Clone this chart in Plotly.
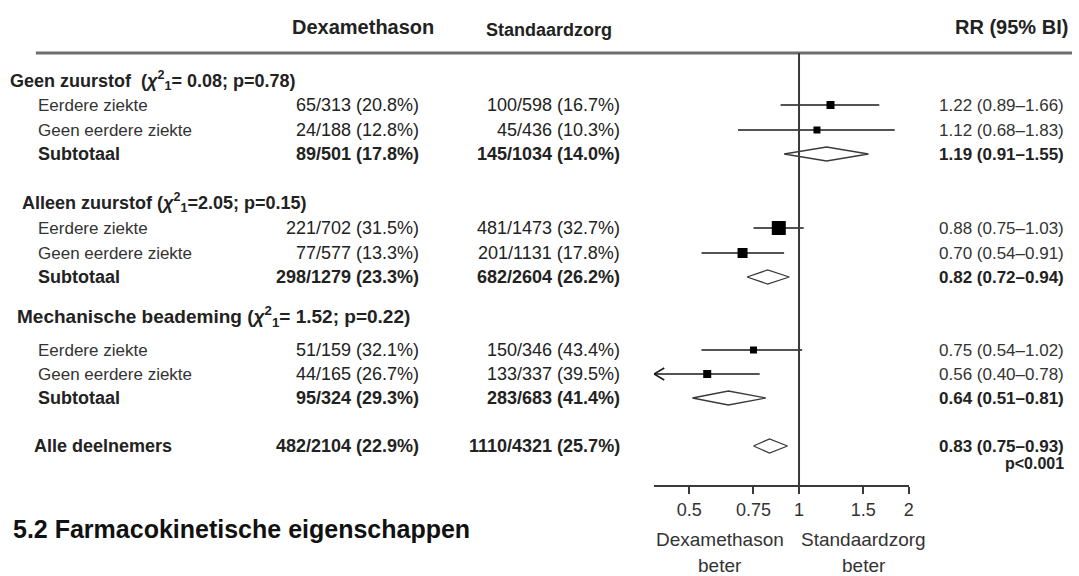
import math
import plotly.graph_objects as go

W, H = 1079, 576

# ---------------- data ----------------
group_names = ["Geen zuurstof\u00a0\u00a0", "Alleen zuurstof ", "Mechanische beademing "]
group_chi = ["0.08", "2.05", "1.52"]
group_p = ["0.78", "0.15", "0.22"]
group_chi_sep = ["= ", "=", "= "]

row_labels = ["Eerdere ziekte", "Geen eerdere ziekte", "Subtotaal",
              "Eerdere ziekte", "Geen eerdere ziekte", "Subtotaal",
              "Eerdere ziekte", "Geen eerdere ziekte", "Subtotaal",
              "Alle deelnemers"]
row_kind = ["study", "study", "sub", "study", "study", "sub",
            "study", "study", "sub", "total"]

dexa_events = [65, 24, 89, 221, 77, 298, 51, 44, 95, 482]
dexa_total = [313, 188, 501, 702, 577, 1279, 159, 165, 324, 2104]
dexa_pct = [20.8, 12.8, 17.8, 31.5, 13.3, 23.3, 32.1, 26.7, 29.3, 22.9]

std_events = [100, 45, 145, 481, 201, 682, 150, 133, 283, 1110]
std_total = [598, 436, 1034, 1473, 1131, 2604, 346, 337, 683, 4321]
std_pct = [16.7, 10.3, 14.0, 32.7, 17.8, 26.2, 43.4, 39.5, 41.4, 25.7]

rr = [1.22, 1.12, 1.19, 0.88, 0.70, 0.82, 0.75, 0.56, 0.64, 0.83]
rr_lo = [0.89, 0.68, 0.91, 0.75, 0.54, 0.72, 0.54, 0.40, 0.51, 0.75]
rr_hi = [1.66, 1.83, 1.55, 1.03, 0.91, 0.94, 1.02, 0.78, 0.81, 0.93]
overall_p = "p<0.001"

tick_vals = [0.5, 0.75, 1, 1.5, 2]
tick_text = ["0.5", "0.75", "1", "1.5", "2"]
axis_min, axis_max = 0.4, 2.0

# ---------------- layout (pixels) ----------------
header_y = [80, 202, 316]
header_x = [8, 20, 15]
header_size = [18, 18, 19]
row_y = [105, 130, 154, 228, 253, 277, 350, 374, 398, 446]
square_size = [8, 7, 0, 14, 10, 0, 7, 8, 0, 0]
diamond_half_h = 7
rule_y = 53
axis_y = 486
ax_left_px, ax_right_px = 657, 913

FONT = "Liberation Sans, Arial, sans-serif"
TXT = "#222222"


def px(x):
    return x / W


fig = go.Figure()

# CI lines and squares for individual rows
for i, k in enumerate(row_kind):
    if k != "study":
        continue
    fig.add_trace(go.Scatter(x=[rr_lo[i], rr_hi[i]], y=[row_y[i], row_y[i]], mode="lines",
                             line=dict(color="#1a1a1a", width=1.6), hoverinfo="skip",
                             showlegend=False))
    fig.add_trace(go.Scatter(x=[rr[i]], y=[row_y[i]], mode="markers",
                             marker=dict(symbol="square", size=square_size[i], color="black",
                                         line=dict(width=0)),
                             hoverinfo="skip", showlegend=False))
    if rr_lo[i] <= axis_min:
        # open arrow head at the clipped lower end
        f = math.exp(0.065)
        fig.add_trace(go.Scatter(x=[rr_lo[i] * f, rr_lo[i], rr_lo[i] * f],
                                 y=[row_y[i] - 6, row_y[i], row_y[i] + 6], mode="lines",
                                 line=dict(color="#1a1a1a", width=1.6), hoverinfo="skip",
                                 showlegend=False))

# diamonds for subtotals and total
for i, k in enumerate(row_kind):
    if k == "study":
        continue
    y0 = row_y[i]
    fig.add_trace(go.Scatter(
        x=[rr_lo[i], rr[i], rr_hi[i], rr[i], rr_lo[i]],
        y=[y0, y0 - diamond_half_h, y0, y0 + diamond_half_h, y0],
        mode="lines", fill="toself", fillcolor="white",
        line=dict(color="#3a3a3a", width=1.3), hoverinfo="skip", showlegend=False))

shapes = [
    dict(type="line", xref="paper", yref="y", x0=px(36), x1=px(1077), y0=rule_y, y1=rule_y,
         line=dict(color="#6e6e6e", width=3)),
    dict(type="line", xref="x", yref="y", x0=1, x1=1, y0=rule_y, y1=axis_y,
         line=dict(color="#3a3a3a", width=2)),
]

ann = []


def T(x, y, text, size=17, bold=False, xanchor="left", color=TXT, family=FONT):
    if bold:
        text = "<b>" + text + "</b>"
    ann.append(dict(x=px(x), y=y, xref="paper", yref="y", text=text, showarrow=False,
                    xanchor=xanchor, yanchor="middle",
                    font=dict(family=family, size=size, color=color)))


# column headers
T(365, 27, "Dexamethason", size=20, bold=True, xanchor="center")
T(552, 30, "Standaardzorg", size=18, bold=True, xanchor="center")
T(1075, 27, "RR (95% BI)", size=20, bold=True, xanchor="right")

# group headers
for g in range(3):
    txt = (group_names[g] + "(<i>χ</i><sup>2</sup><sub>1</sub>" + group_chi_sep[g]
           + group_chi[g] + "; p=" + group_p[g] + ")")
    T(header_x[g], header_y[g], txt, size=header_size[g], bold=True)

# rows
for i, k in enumerate(row_kind):
    bold = k != "study"
    lx = 32 if k == "total" else 36
    T(lx, row_y[i], row_labels[i], size=17 if not bold else 18, bold=bold,
      color="#333333" if not bold else TXT)
    T(423, row_y[i], f"{dexa_events[i]}/{dexa_total[i]} ({dexa_pct[i]:.1f}%)",
      size=18, bold=bold, xanchor="right")
    T(625, row_y[i], f"{std_events[i]}/{std_total[i]} ({std_pct[i]:.1f}%)",
      size=18, bold=bold, xanchor="right")
    T(1071, row_y[i], f"{rr[i]:.2f} ({rr_lo[i]:.2f}\u2013{rr_hi[i]:.2f})",
      size=17, bold=bold, xanchor="right", color="#333333" if not bold else TXT)

T(1071, 463, overall_p, size=16, bold=True, xanchor="right")

# axis side labels
T(723, 539, "Dexamethason", size=19, xanchor="center", color="#333333")
T(723, 565, "beter", size=19, xanchor="center", color="#333333")
T(868, 539, "Standaardzorg", size=19, xanchor="center", color="#333333")
T(868, 565, "beter", size=19, xanchor="center", color="#333333")

# section title
T(11, 529, "5.2 Farmacokinetische eigenschappen", size=25, bold=True,
  color="#111111", family="Liberation Sans Narrow, Arial Narrow, Liberation Sans, sans-serif")

fig.update_layout(
    width=W, height=H, autosize=False,
    margin=dict(l=0, r=0, t=0, b=0, pad=0),
    paper_bgcolor="white", plot_bgcolor="white",
    showlegend=False,
    shapes=shapes, annotations=ann,
    xaxis=dict(type="log", range=[math.log10(axis_min), math.log10(axis_max)],
               domain=[px(ax_left_px), px(ax_right_px)],
               anchor="free", position=1 - axis_y / H,
               tickvals=tick_vals, ticktext=tick_text,
               ticks="outside", ticklen=7, tickwidth=2, tickcolor="#3a3a3a",
               showline=True, linewidth=2, linecolor="#3a3a3a",
               showgrid=False, zeroline=False,
               tickfont=dict(family=FONT, size=18, color="#333333")),
    yaxis=dict(range=[H, 0], domain=[0, 1], visible=False, showgrid=False, zeroline=False),
)

fig.write_html("out.html", config={"displayModeBar": False},
               post_script="document.body.style.margin='0';")
